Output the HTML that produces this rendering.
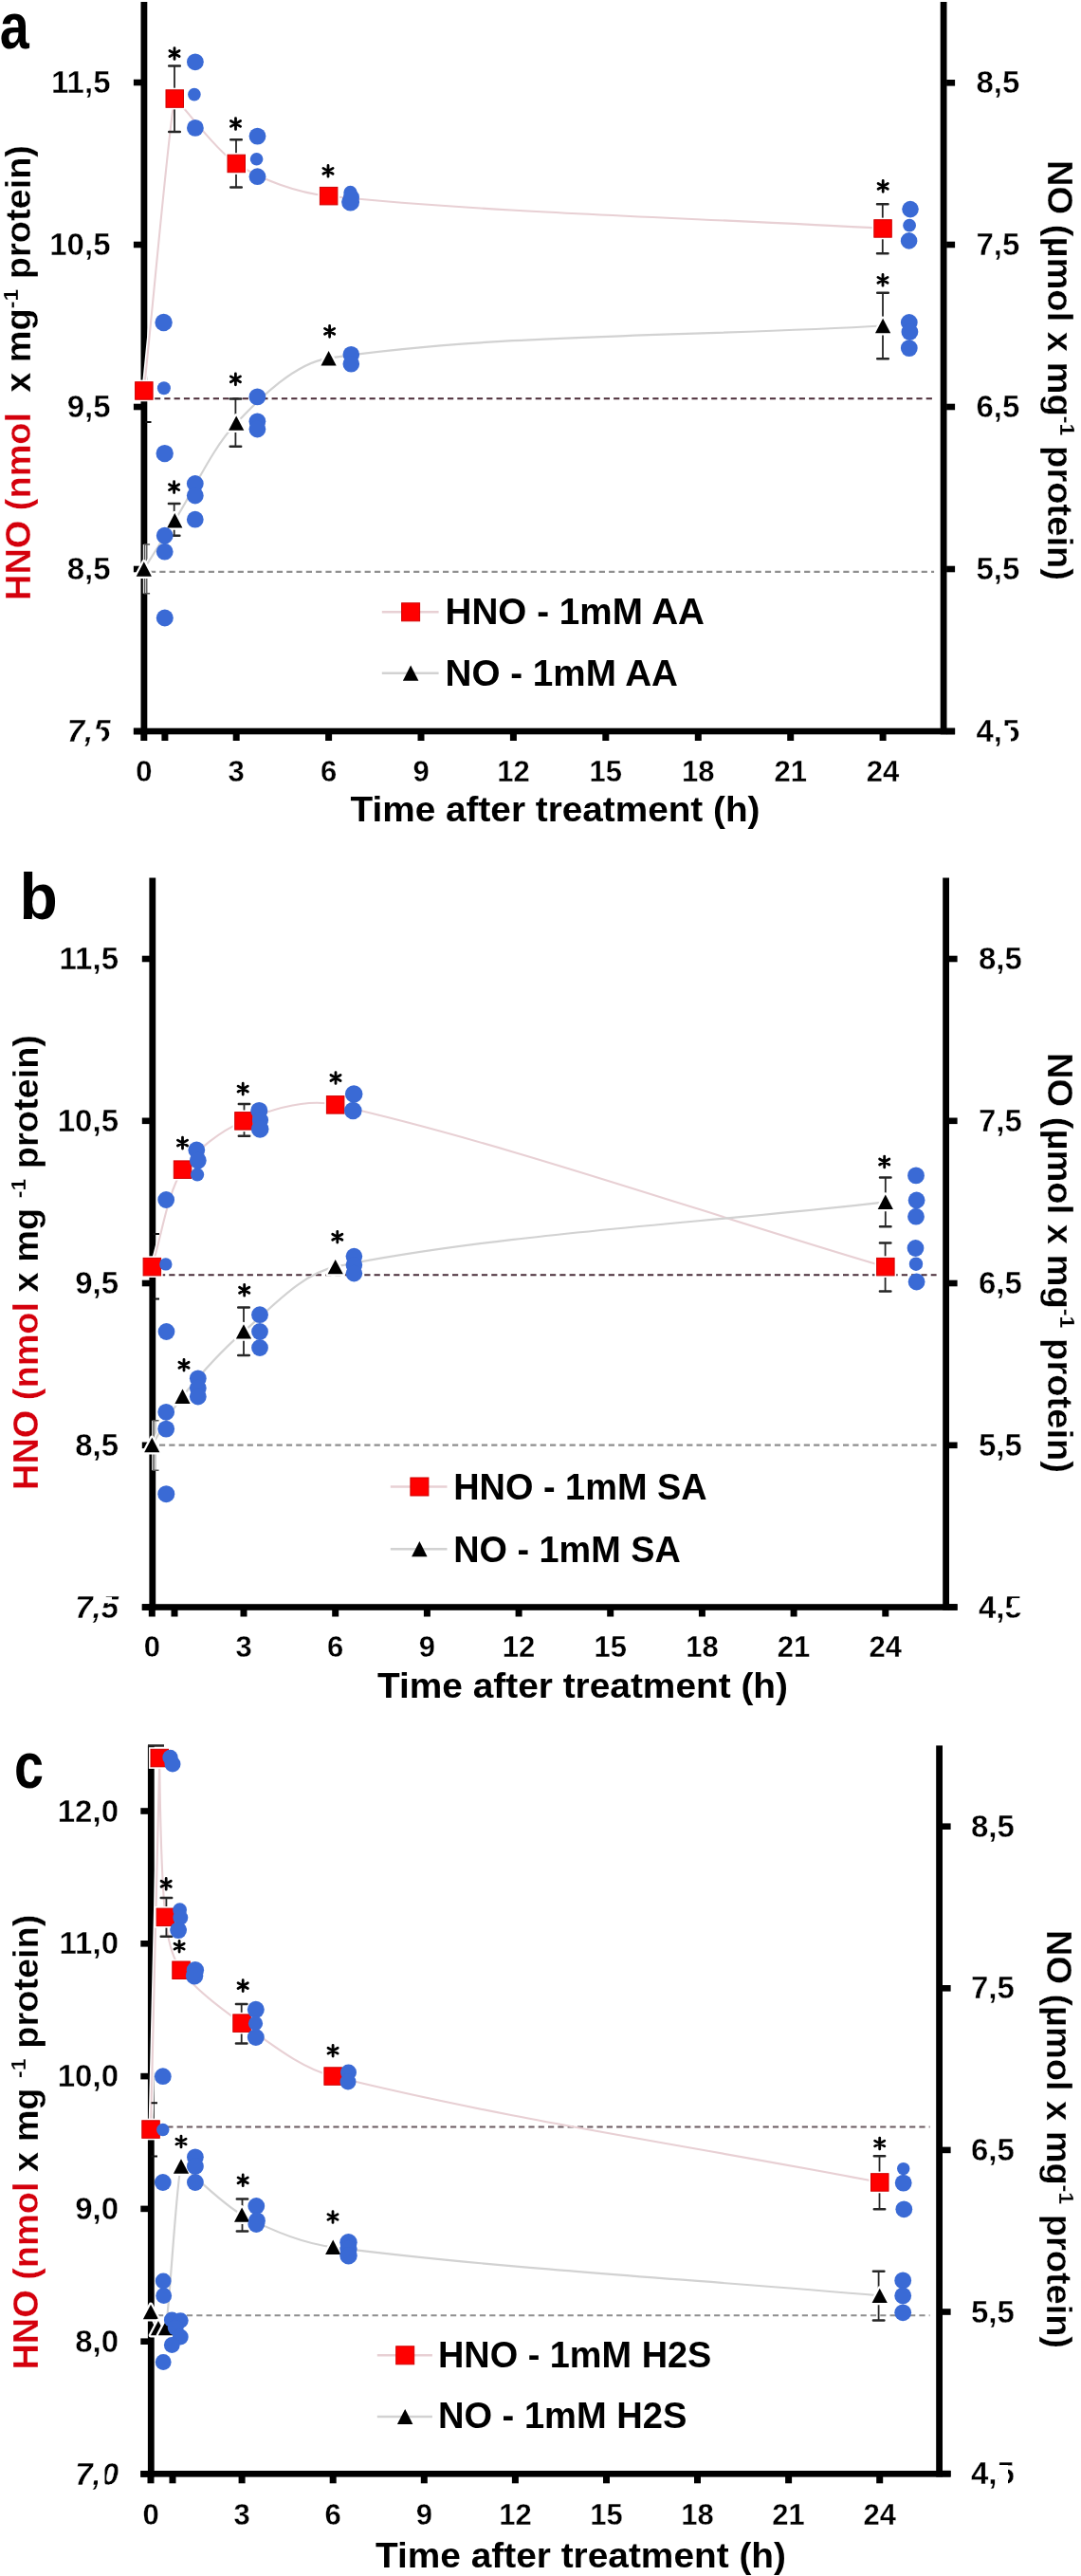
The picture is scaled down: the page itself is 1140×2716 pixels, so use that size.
<!DOCTYPE html><html><head><meta charset="utf-8"><style>html,body{margin:0;padding:0;background:#fff;}svg{display:block;will-change:transform;}</style></head><body>
<svg width="1140" height="2716" viewBox="0 0 1140 2716" font-family='"Liberation Sans", sans-serif' font-weight="bold">
<rect width="1140" height="2716" fill="#fff"/>
<rect x="148.5" y="2.0" width="6.8" height="772.3" fill="#000"/>
<rect x="991.7" y="2.0" width="6.8" height="772.3" fill="#000"/>
<rect x="140.9" y="767.7" width="866.2" height="6.6" fill="#000"/>
<rect x="140.9" y="83.7" width="9" height="6.6" fill="#000"/>
<rect x="140.9" y="254.7" width="9" height="6.6" fill="#000"/>
<rect x="140.9" y="425.7" width="9" height="6.6" fill="#000"/>
<rect x="140.9" y="596.7" width="9" height="6.6" fill="#000"/>
<rect x="140.9" y="767.7" width="9" height="6.6" fill="#000"/>
<rect x="998.1" y="84.0" width="9" height="6.6" fill="#000"/>
<rect x="998.1" y="254.7" width="9" height="6.6" fill="#000"/>
<rect x="998.1" y="425.7" width="9" height="6.6" fill="#000"/>
<rect x="998.1" y="596.7" width="9" height="6.6" fill="#000"/>
<rect x="998.1" y="767.7" width="9" height="6.6" fill="#000"/>
<rect x="148.3" y="773.0" width="7" height="8" fill="#000"/>
<rect x="170.4" y="773.0" width="7" height="8" fill="#000"/>
<rect x="245.7" y="773.0" width="7" height="8" fill="#000"/>
<rect x="343.1" y="773.0" width="7" height="8" fill="#000"/>
<rect x="440.5" y="773.0" width="7" height="8" fill="#000"/>
<rect x="537.9" y="773.0" width="7" height="8" fill="#000"/>
<rect x="635.3" y="773.0" width="7" height="8" fill="#000"/>
<rect x="732.8" y="773.0" width="7" height="8" fill="#000"/>
<rect x="830.2" y="773.0" width="7" height="8" fill="#000"/>
<rect x="927.6" y="773.0" width="7" height="8" fill="#000"/>
<path d="M151.8 411.9 C162.6 309.3 179.9 114.8 184.3 104.1 C185.6 100.8 224.8 157.1 249.2 172.5 C275.9 189.4 313.2 203.3 346.6 206.7 C536.1 225.7 736.3 229.5 931.1 240.9" stroke="#fff" stroke-width="5" fill="none"/>
<path d="M151.8 600.0 C162.6 582.9 173.4 565.8 184.3 548.7 C205.9 514.5 222.9 473.8 249.2 446.1 C275.0 419.0 311.1 383.0 346.6 377.7 C521.4 351.4 736.3 354.9 931.1 343.5" stroke="#fff" stroke-width="5" fill="none"/>
<path d="M163.0 420.3 H985.1" stroke="#4a2a36" stroke-width="1.9" stroke-dasharray="6.2 4.1"/>
<path d="M158.0 602.9 H985.1" stroke="#8f8f8f" stroke-width="2.1" stroke-dasharray="6.2 4.1"/>
<path d="M151.8 411.9 C162.6 309.3 179.9 114.8 184.3 104.1 C185.6 100.8 224.8 157.1 249.2 172.5 C275.9 189.4 313.2 203.3 346.6 206.7 C536.1 225.7 736.3 229.5 931.1 240.9" stroke="#e8d0d4" stroke-width="2.1" fill="none"/>
<path d="M151.8 600.0 C162.6 582.9 173.4 565.8 184.3 548.7 C205.9 514.5 222.9 473.8 249.2 446.1 C275.0 419.0 311.1 383.0 346.6 377.7 C521.4 351.4 736.3 354.9 931.1 343.5" stroke="#d2d2d2" stroke-width="2.2" fill="none"/>
<path d="M184.0 69.6 V139.0" stroke="#262626" stroke-width="1.8" fill="none"/>
<path d="M178.2 69.6 H189.8 M178.2 139.0 H189.8" stroke="#262626" stroke-width="2.5" stroke-linecap="round" fill="none"/>
<path d="M249.0 147.3 V197.6" stroke="#262626" stroke-width="1.8" fill="none"/>
<path d="M243.2 147.3 H254.8 M243.2 197.6 H254.8" stroke="#262626" stroke-width="2.5" stroke-linecap="round" fill="none"/>
<path d="M930.8 215.3 V267.2" stroke="#262626" stroke-width="1.8" fill="none"/>
<path d="M925.0 215.3 H936.5 M925.0 267.2 H936.5" stroke="#262626" stroke-width="2.5" stroke-linecap="round" fill="none"/>
<path d="M183.7 531.1 V564.7" stroke="#262626" stroke-width="1.8" fill="none"/>
<path d="M177.9 531.1 H189.4 M177.9 564.7 H189.4" stroke="#262626" stroke-width="2.5" stroke-linecap="round" fill="none"/>
<path d="M248.4 420.6 V470.7" stroke="#262626" stroke-width="1.8" fill="none"/>
<path d="M242.7 420.6 H254.2 M242.7 470.7 H254.2" stroke="#262626" stroke-width="2.5" stroke-linecap="round" fill="none"/>
<path d="M931.0 308.8 V378.2" stroke="#262626" stroke-width="1.8" fill="none"/>
<path d="M925.2 308.8 H936.8 M925.2 378.2 H936.8" stroke="#262626" stroke-width="2.5" stroke-linecap="round" fill="none"/>
<path d="M152.6 574.0 V625.8" stroke="#fff" stroke-width="3.6"/>
<path d="M152.6 574.0 V625.8 M151.6 625.8 H158.1 M151.6 574.0 H158.1" stroke="#555" stroke-width="1.5" fill="none"/>
<path d="M153.0 445.0 H159.5" stroke="#111" stroke-width="2" fill="none"/>
<rect x="140.5" y="400.6" width="22.7" height="22.7" fill="#fff"/>
<rect x="142.6" y="402.7" width="18.5" height="18.5" fill="#ff0000" stroke="#d00000" stroke-width="1"/>
<rect x="172.9" y="92.7" width="22.7" height="22.7" fill="#fff"/>
<rect x="175.0" y="94.8" width="18.5" height="18.5" fill="#ff0000" stroke="#d00000" stroke-width="1"/>
<rect x="237.9" y="161.2" width="22.7" height="22.7" fill="#fff"/>
<rect x="240.0" y="163.2" width="18.5" height="18.5" fill="#ff0000" stroke="#d00000" stroke-width="1"/>
<rect x="335.3" y="195.3" width="22.7" height="22.7" fill="#fff"/>
<rect x="337.4" y="197.4" width="18.5" height="18.5" fill="#ff0000" stroke="#d00000" stroke-width="1"/>
<rect x="919.7" y="229.6" width="22.7" height="22.7" fill="#fff"/>
<rect x="921.8" y="231.7" width="18.5" height="18.5" fill="#ff0000" stroke="#d00000" stroke-width="1"/>
<polygon points="151.8,592.3 159.9,607.7 143.7,607.7" fill="#fff" stroke="#fff" stroke-width="4.5" stroke-linejoin="round"/>
<polygon points="151.8,592.3 159.9,607.7 143.7,607.7" fill="#000"/>
<polygon points="184.3,541.0 192.4,556.4 176.2,556.4" fill="#fff" stroke="#fff" stroke-width="4.5" stroke-linejoin="round"/>
<polygon points="184.3,541.0 192.4,556.4 176.2,556.4" fill="#000"/>
<polygon points="249.2,438.4 257.3,453.8 241.1,453.8" fill="#fff" stroke="#fff" stroke-width="4.5" stroke-linejoin="round"/>
<polygon points="249.2,438.4 257.3,453.8 241.1,453.8" fill="#000"/>
<polygon points="346.6,370.0 354.7,385.4 338.5,385.4" fill="#fff" stroke="#fff" stroke-width="4.5" stroke-linejoin="round"/>
<polygon points="346.6,370.0 354.7,385.4 338.5,385.4" fill="#000"/>
<polygon points="931.1,335.8 939.2,351.2 923.0,351.2" fill="#fff" stroke="#fff" stroke-width="4.5" stroke-linejoin="round"/>
<polygon points="931.1,335.8 939.2,351.2 923.0,351.2" fill="#000"/>
<circle cx="205.9" cy="65.3" r="8.9" fill="#3a6ad5"/>
<circle cx="204.9" cy="99.6" r="6.8" fill="#3a6ad5"/>
<circle cx="205.9" cy="134.9" r="8.9" fill="#3a6ad5"/>
<circle cx="271.5" cy="143.6" r="8.9" fill="#3a6ad5"/>
<circle cx="270.6" cy="167.7" r="6.8" fill="#3a6ad5"/>
<circle cx="271.5" cy="186.2" r="8.9" fill="#3a6ad5"/>
<circle cx="369.5" cy="203.0" r="7.2" fill="#3a6ad5"/>
<circle cx="369.6" cy="213.0" r="9.5" fill="#3a6ad5"/>
<circle cx="370.5" cy="208.0" r="8.5" fill="#3a6ad5"/>
<circle cx="960.0" cy="220.6" r="8.8" fill="#3a6ad5"/>
<circle cx="959.1" cy="237.7" r="6.9" fill="#3a6ad5"/>
<circle cx="958.6" cy="253.9" r="8.8" fill="#3a6ad5"/>
<circle cx="172.6" cy="340.0" r="9.2" fill="#3a6ad5"/>
<circle cx="172.9" cy="409.2" r="7.0" fill="#3a6ad5"/>
<circle cx="173.7" cy="478.1" r="9.2" fill="#3a6ad5"/>
<circle cx="173.7" cy="564.7" r="8.9" fill="#3a6ad5"/>
<circle cx="173.7" cy="581.7" r="8.9" fill="#3a6ad5"/>
<circle cx="205.8" cy="510.0" r="8.9" fill="#3a6ad5"/>
<circle cx="205.8" cy="522.5" r="8.9" fill="#3a6ad5"/>
<circle cx="205.8" cy="547.7" r="8.9" fill="#3a6ad5"/>
<circle cx="271.4" cy="418.4" r="8.9" fill="#3a6ad5"/>
<circle cx="271.4" cy="444.3" r="8.9" fill="#3a6ad5"/>
<circle cx="271.4" cy="452.5" r="8.9" fill="#3a6ad5"/>
<circle cx="370.3" cy="373.7" r="8.8" fill="#3a6ad5"/>
<circle cx="370.3" cy="383.8" r="8.8" fill="#3a6ad5"/>
<circle cx="958.8" cy="340.0" r="8.9" fill="#3a6ad5"/>
<circle cx="959.4" cy="350.0" r="8.9" fill="#3a6ad5"/>
<circle cx="958.8" cy="367.1" r="8.9" fill="#3a6ad5"/>
<circle cx="173.8" cy="651.5" r="9.0" fill="#3a6ad5"/>
<path d="M184.0 50.6 L184.0 62.4 M178.9 53.5 L189.1 59.5 M189.1 53.5 L178.9 59.5 " stroke="#000" stroke-width="2.8" stroke-linecap="round"/>
<path d="M248.5 124.6 L248.5 136.4 M243.4 127.5 L253.6 133.4 M253.6 127.5 L243.4 133.4 " stroke="#000" stroke-width="2.8" stroke-linecap="round"/>
<path d="M346.0 174.4 L346.0 186.2 M340.9 177.4 L351.1 183.2 M351.1 177.4 L340.9 183.2 " stroke="#000" stroke-width="2.8" stroke-linecap="round"/>
<path d="M931.2 190.5 L931.2 202.3 M926.1 193.5 L936.3 199.3 M936.3 193.5 L926.1 199.3 " stroke="#000" stroke-width="2.8" stroke-linecap="round"/>
<path d="M183.6 507.7 L183.6 519.5 M178.5 510.7 L188.7 516.6 M188.7 510.7 L178.5 516.6 " stroke="#000" stroke-width="2.8" stroke-linecap="round"/>
<path d="M248.4 394.0 L248.4 405.8 M243.3 396.9 L253.5 402.8 M253.5 396.9 L243.3 402.8 " stroke="#000" stroke-width="2.8" stroke-linecap="round"/>
<path d="M347.6 343.5 L347.6 355.3 M342.5 346.4 L352.7 352.3 M352.7 346.4 L342.5 352.3 " stroke="#000" stroke-width="2.8" stroke-linecap="round"/>
<path d="M931.0 289.4 L931.0 301.2 M925.9 292.4 L936.1 298.2 M936.1 292.4 L925.9 298.2 " stroke="#000" stroke-width="2.8" stroke-linecap="round"/>
<text x="116.5" y="98.0" font-size="33.0" text-anchor="end" fill="#000" stroke="#fff" stroke-width="0.4">11,5</text>
<text x="116.5" y="269.0" font-size="33.0" text-anchor="end" fill="#000" stroke="#fff" stroke-width="0.4">10,5</text>
<text x="116.5" y="440.0" font-size="33.0" text-anchor="end" fill="#000" stroke="#fff" stroke-width="0.4">9,5</text>
<text x="116.5" y="611.0" font-size="33.0" text-anchor="end" fill="#000" stroke="#fff" stroke-width="0.4">8,5</text>
<text x="116.5" y="782.0" font-size="33.0" text-anchor="end" fill="#000" font-style="italic" stroke="#fff" stroke-width="0.4">7,5</text>
<text x="1029.5" y="98.3" font-size="33.0" text-anchor="start" fill="#000" stroke="#fff" stroke-width="0.4">8,5</text>
<text x="1029.5" y="269.0" font-size="33.0" text-anchor="start" fill="#000" stroke="#fff" stroke-width="0.4">7,5</text>
<text x="1029.5" y="440.0" font-size="33.0" text-anchor="start" fill="#000" stroke="#fff" stroke-width="0.4">6,5</text>
<text x="1029.5" y="611.0" font-size="33.0" text-anchor="start" fill="#000" stroke="#fff" stroke-width="0.4">5,5</text>
<text x="1029.5" y="782.0" font-size="33.0" text-anchor="start" fill="#000" stroke="#fff" stroke-width="0.4">4,5</text>
<rect x="98.0" y="768.5" width="9.5" height="16.0" fill="#fff"/>
<rect x="1057.5" y="765.0" width="8.5" height="19.0" fill="#fff"/>
<text x="151.8" y="824.2" font-size="31.0" text-anchor="middle" fill="#000" stroke="#fff" stroke-width="0.3">0</text>
<text x="249.2" y="824.2" font-size="31.0" text-anchor="middle" fill="#000" stroke="#fff" stroke-width="0.3">3</text>
<text x="346.6" y="824.2" font-size="31.0" text-anchor="middle" fill="#000" stroke="#fff" stroke-width="0.3">6</text>
<text x="444.0" y="824.2" font-size="31.0" text-anchor="middle" fill="#000" stroke="#fff" stroke-width="0.3">9</text>
<text x="541.4" y="824.2" font-size="31.0" text-anchor="middle" fill="#000" stroke="#fff" stroke-width="0.3">12</text>
<text x="638.8" y="824.2" font-size="31.0" text-anchor="middle" fill="#000" stroke="#fff" stroke-width="0.3">15</text>
<text x="736.3" y="824.2" font-size="31.0" text-anchor="middle" fill="#000" stroke="#fff" stroke-width="0.3">18</text>
<text x="833.7" y="824.2" font-size="31.0" text-anchor="middle" fill="#000" stroke="#fff" stroke-width="0.3">21</text>
<text x="931.1" y="824.2" font-size="31.0" text-anchor="middle" fill="#000" stroke="#fff" stroke-width="0.3">24</text>
<text x="369.5" y="865.7" font-size="37.2" text-anchor="start" fill="#000" textLength="432.0" lengthAdjust="spacingAndGlyphs" >Time after treatment (h)</text>
<path d="M402.8 645.3 H462.6" stroke="#e8d0d4" stroke-width="2.4"/>
<rect x="423.6" y="635.8" width="19.0" height="19.0" fill="#ff0000" stroke="#d00000" stroke-width="1"/>
<path d="M402.8 709.7 H462.6" stroke="#d2d2d2" stroke-width="2.4"/>
<polygon points="433.1,701.6 441.4,717.8 424.9,717.8" fill="#000"/>
<text x="469.5" y="658.0" font-size="38.5" text-anchor="start" fill="#000" textLength="273.5" lengthAdjust="spacingAndGlyphs" >HNO - 1mM AA</text>
<text x="469.5" y="723.0" font-size="38.5" text-anchor="start" fill="#000" textLength="245.5" lengthAdjust="spacingAndGlyphs" >NO - 1mM AA</text>
<text transform="translate(32.2 633.0) rotate(-90)" font-size="36" textLength="480.0" lengthAdjust="spacingAndGlyphs" stroke="#fff" stroke-width="0.25"><tspan fill="#d4000c">HNO (nmol</tspan>&#160; x mg<tspan font-size="22" dy="-13">-1</tspan><tspan dy="13"> protein)</tspan></text>
<text transform="translate(1105.3 169.0) rotate(90)" font-size="36" textLength="443.0" lengthAdjust="spacingAndGlyphs" stroke="#fff" stroke-width="0.25">NO (&#181;mol x mg<tspan font-size="22" dy="-13">-1</tspan><tspan dy="13"> protein)</tspan></text>
<text transform="translate(-0.2 51.0) scale(0.820 1)" font-size="68">a</text>
<rect x="157.4" y="925.5" width="6.8" height="772.3" fill="#000"/>
<rect x="994.2" y="925.5" width="6.8" height="772.3" fill="#000"/>
<rect x="149.8" y="1691.2" width="859.8" height="6.6" fill="#000"/>
<rect x="149.8" y="1007.7" width="9" height="6.6" fill="#000"/>
<rect x="149.8" y="1178.5" width="9" height="6.6" fill="#000"/>
<rect x="149.8" y="1349.7" width="9" height="6.6" fill="#000"/>
<rect x="149.8" y="1520.5" width="9" height="6.6" fill="#000"/>
<rect x="149.8" y="1691.2" width="9" height="6.6" fill="#000"/>
<rect x="1000.6" y="1007.7" width="9" height="6.6" fill="#000"/>
<rect x="1000.6" y="1178.5" width="9" height="6.6" fill="#000"/>
<rect x="1000.6" y="1349.7" width="9" height="6.6" fill="#000"/>
<rect x="1000.6" y="1520.5" width="9" height="6.6" fill="#000"/>
<rect x="1000.6" y="1691.2" width="9" height="6.6" fill="#000"/>
<rect x="156.8" y="1696.5" width="7" height="8" fill="#000"/>
<rect x="180.5" y="1696.5" width="7" height="8" fill="#000"/>
<rect x="253.5" y="1696.5" width="7" height="8" fill="#000"/>
<rect x="350.2" y="1696.5" width="7" height="8" fill="#000"/>
<rect x="446.9" y="1696.5" width="7" height="8" fill="#000"/>
<rect x="543.6" y="1696.5" width="7" height="8" fill="#000"/>
<rect x="640.2" y="1696.5" width="7" height="8" fill="#000"/>
<rect x="736.9" y="1696.5" width="7" height="8" fill="#000"/>
<rect x="833.6" y="1696.5" width="7" height="8" fill="#000"/>
<rect x="930.3" y="1696.5" width="7" height="8" fill="#000"/>
<path d="M160.3 1335.6 C171.0 1301.5 175.8 1259.7 192.5 1233.1 C205.3 1212.8 234.0 1191.7 257.0 1181.9 C284.4 1170.3 323.8 1158.0 353.7 1164.8 C537.6 1206.6 740.4 1278.7 933.8 1335.6" stroke="#fff" stroke-width="5" fill="none"/>
<path d="M160.3 1523.5 C171.0 1506.4 180.0 1487.7 192.5 1472.3 C211.9 1448.3 233.5 1423.9 257.0 1403.9 C286.6 1378.8 318.0 1342.8 353.7 1335.6 C529.9 1300.0 740.4 1290.1 933.8 1267.3" stroke="#fff" stroke-width="5" fill="none"/>
<path d="M168.0 1344.2 H987.6" stroke="#4a2e3a" stroke-width="1.9" stroke-dasharray="6.2 4.1"/>
<path d="M168.0 1523.6 H987.6" stroke="#8f8f8f" stroke-width="2.1" stroke-dasharray="6.2 4.1"/>
<path d="M160.3 1335.6 C171.0 1301.5 175.8 1259.7 192.5 1233.1 C205.3 1212.8 234.0 1191.7 257.0 1181.9 C284.4 1170.3 323.8 1158.0 353.7 1164.8 C537.6 1206.6 740.4 1278.7 933.8 1335.6" stroke="#e8d0d4" stroke-width="2.1" fill="none"/>
<path d="M160.3 1523.5 C171.0 1506.4 180.0 1487.7 192.5 1472.3 C211.9 1448.3 233.5 1423.9 257.0 1403.9 C286.6 1378.8 318.0 1342.8 353.7 1335.6 C529.9 1300.0 740.4 1290.1 933.8 1267.3" stroke="#d2d2d2" stroke-width="2.2" fill="none"/>
<path d="M257.5 1164.0 V1197.7" stroke="#262626" stroke-width="1.8" fill="none"/>
<path d="M251.8 1164.0 H263.2 M251.8 1197.7 H263.2" stroke="#262626" stroke-width="2.5" stroke-linecap="round" fill="none"/>
<path d="M933.6 1310.5 V1361.5" stroke="#262626" stroke-width="1.8" fill="none"/>
<path d="M927.9 1310.5 H939.4 M927.9 1361.5 H939.4" stroke="#262626" stroke-width="2.5" stroke-linecap="round" fill="none"/>
<path d="M257.0 1378.5 V1429.0" stroke="#262626" stroke-width="1.8" fill="none"/>
<path d="M251.2 1378.5 H262.8 M251.2 1429.0 H262.8" stroke="#262626" stroke-width="2.5" stroke-linecap="round" fill="none"/>
<path d="M933.8 1241.6 V1293.3" stroke="#262626" stroke-width="1.8" fill="none"/>
<path d="M928.0 1241.6 H939.5 M928.0 1293.3 H939.5" stroke="#262626" stroke-width="2.5" stroke-linecap="round" fill="none"/>
<path d="M161.5 1369.5 H168.0 M161.5 1301.0 H168.0" stroke="#111" stroke-width="2" fill="none"/>
<path d="M162.0 1497.7 V1550.2" stroke="#fff" stroke-width="3.6"/>
<path d="M162.0 1497.7 V1550.2 M161.0 1550.2 H167.5 M161.0 1497.7 H167.5" stroke="#555" stroke-width="1.5" fill="none"/>
<rect x="149.0" y="1324.3" width="22.7" height="22.7" fill="#fff"/>
<rect x="151.1" y="1326.4" width="18.5" height="18.5" fill="#ff0000" stroke="#d00000" stroke-width="1"/>
<rect x="181.2" y="1221.8" width="22.7" height="22.7" fill="#fff"/>
<rect x="183.3" y="1223.9" width="18.5" height="18.5" fill="#ff0000" stroke="#d00000" stroke-width="1"/>
<rect x="245.6" y="1170.5" width="22.7" height="22.7" fill="#fff"/>
<rect x="247.7" y="1172.6" width="18.5" height="18.5" fill="#ff0000" stroke="#d00000" stroke-width="1"/>
<rect x="342.3" y="1153.5" width="22.7" height="22.7" fill="#fff"/>
<rect x="344.4" y="1155.6" width="18.5" height="18.5" fill="#ff0000" stroke="#d00000" stroke-width="1"/>
<rect x="922.5" y="1324.3" width="22.7" height="22.7" fill="#fff"/>
<rect x="924.6" y="1326.4" width="18.5" height="18.5" fill="#ff0000" stroke="#d00000" stroke-width="1"/>
<polygon points="160.3,1515.8 168.4,1531.2 152.2,1531.2" fill="#fff" stroke="#fff" stroke-width="4.5" stroke-linejoin="round"/>
<polygon points="160.3,1515.8 168.4,1531.2 152.2,1531.2" fill="#000"/>
<polygon points="192.5,1464.6 200.6,1480.0 184.4,1480.0" fill="#fff" stroke="#fff" stroke-width="4.5" stroke-linejoin="round"/>
<polygon points="192.5,1464.6 200.6,1480.0 184.4,1480.0" fill="#000"/>
<polygon points="257.0,1396.2 265.1,1411.6 248.9,1411.6" fill="#fff" stroke="#fff" stroke-width="4.5" stroke-linejoin="round"/>
<polygon points="257.0,1396.2 265.1,1411.6 248.9,1411.6" fill="#000"/>
<polygon points="353.7,1327.9 361.8,1343.3 345.6,1343.3" fill="#fff" stroke="#fff" stroke-width="4.5" stroke-linejoin="round"/>
<polygon points="353.7,1327.9 361.8,1343.3 345.6,1343.3" fill="#000"/>
<polygon points="933.8,1259.6 941.9,1275.0 925.7,1275.0" fill="#fff" stroke="#fff" stroke-width="4.5" stroke-linejoin="round"/>
<polygon points="933.8,1259.6 941.9,1275.0 925.7,1275.0" fill="#000"/>
<circle cx="175.2" cy="1265.0" r="8.9" fill="#3a6ad5"/>
<circle cx="174.8" cy="1332.9" r="6.7" fill="#3a6ad5"/>
<circle cx="175.5" cy="1404.0" r="8.9" fill="#3a6ad5"/>
<circle cx="207.3" cy="1212.5" r="8.9" fill="#3a6ad5"/>
<circle cx="208.8" cy="1223.6" r="8.9" fill="#3a6ad5"/>
<circle cx="208.1" cy="1238.4" r="7.1" fill="#3a6ad5"/>
<circle cx="273.3" cy="1171.0" r="9.1" fill="#3a6ad5"/>
<circle cx="274.5" cy="1181.0" r="8.6" fill="#3a6ad5"/>
<circle cx="274.2" cy="1190.5" r="9.3" fill="#3a6ad5"/>
<circle cx="373.2" cy="1153.5" r="9.3" fill="#3a6ad5"/>
<circle cx="372.3" cy="1171.0" r="9.3" fill="#3a6ad5"/>
<circle cx="966.0" cy="1239.4" r="8.9" fill="#3a6ad5"/>
<circle cx="966.6" cy="1265.5" r="8.9" fill="#3a6ad5"/>
<circle cx="966.0" cy="1282.7" r="8.9" fill="#3a6ad5"/>
<circle cx="965.5" cy="1316.0" r="8.9" fill="#3a6ad5"/>
<circle cx="966.0" cy="1332.7" r="7.2" fill="#3a6ad5"/>
<circle cx="966.6" cy="1351.5" r="8.9" fill="#3a6ad5"/>
<circle cx="274.0" cy="1386.2" r="8.9" fill="#3a6ad5"/>
<circle cx="274.0" cy="1404.0" r="8.9" fill="#3a6ad5"/>
<circle cx="274.0" cy="1421.0" r="8.9" fill="#3a6ad5"/>
<circle cx="208.8" cy="1453.3" r="8.9" fill="#3a6ad5"/>
<circle cx="208.8" cy="1463.6" r="8.9" fill="#3a6ad5"/>
<circle cx="208.8" cy="1472.5" r="8.9" fill="#3a6ad5"/>
<circle cx="175.2" cy="1488.8" r="8.9" fill="#3a6ad5"/>
<circle cx="175.2" cy="1506.6" r="8.9" fill="#3a6ad5"/>
<circle cx="373.4" cy="1324.6" r="8.8" fill="#3a6ad5"/>
<circle cx="373.4" cy="1333.8" r="8.8" fill="#3a6ad5"/>
<circle cx="373.4" cy="1342.6" r="8.8" fill="#3a6ad5"/>
<circle cx="175.3" cy="1575.2" r="9.0" fill="#3a6ad5"/>
<path d="M192.5 1199.2 L192.5 1211.0 M187.4 1202.1 L197.6 1208.0 M197.6 1202.1 L187.4 1208.0 " stroke="#000" stroke-width="2.8" stroke-linecap="round"/>
<path d="M256.2 1142.2 L256.2 1154.0 M251.1 1145.1 L261.3 1151.0 M261.3 1145.1 L251.1 1151.0 " stroke="#000" stroke-width="2.8" stroke-linecap="round"/>
<path d="M354.0 1130.6 L354.0 1142.4 M348.9 1133.5 L359.1 1139.5 M359.1 1133.5 L348.9 1139.5 " stroke="#000" stroke-width="2.8" stroke-linecap="round"/>
<path d="M932.7 1219.1 L932.7 1230.9 M927.6 1222.0 L937.8 1228.0 M937.8 1222.0 L927.6 1228.0 " stroke="#000" stroke-width="2.8" stroke-linecap="round"/>
<path d="M194.0 1433.3 L194.0 1445.1 M188.9 1436.2 L199.1 1442.2 M199.1 1436.2 L188.9 1442.2 " stroke="#000" stroke-width="2.8" stroke-linecap="round"/>
<path d="M257.7 1354.4 L257.7 1366.2 M252.6 1357.3 L262.8 1363.2 M262.8 1357.3 L252.6 1363.2 " stroke="#000" stroke-width="2.8" stroke-linecap="round"/>
<path d="M355.8 1298.3 L355.8 1310.1 M350.7 1301.2 L360.9 1307.2 M360.9 1301.2 L350.7 1307.2 " stroke="#000" stroke-width="2.8" stroke-linecap="round"/>
<text x="125.0" y="1022.0" font-size="33.0" text-anchor="end" fill="#000" stroke="#fff" stroke-width="0.4">11,5</text>
<text x="125.0" y="1192.8" font-size="33.0" text-anchor="end" fill="#000" stroke="#fff" stroke-width="0.4">10,5</text>
<text x="125.0" y="1364.0" font-size="33.0" text-anchor="end" fill="#000" stroke="#fff" stroke-width="0.4">9,5</text>
<text x="125.0" y="1534.8" font-size="33.0" text-anchor="end" fill="#000" stroke="#fff" stroke-width="0.4">8,5</text>
<text x="125.0" y="1705.5" font-size="33.0" text-anchor="end" fill="#000" font-style="italic" stroke="#fff" stroke-width="0.4">7,5</text>
<text x="1032.0" y="1022.0" font-size="33.0" text-anchor="start" fill="#000" stroke="#fff" stroke-width="0.4">8,5</text>
<text x="1032.0" y="1192.8" font-size="33.0" text-anchor="start" fill="#000" stroke="#fff" stroke-width="0.4">7,5</text>
<text x="1032.0" y="1364.0" font-size="33.0" text-anchor="start" fill="#000" stroke="#fff" stroke-width="0.4">6,5</text>
<text x="1032.0" y="1534.8" font-size="33.0" text-anchor="start" fill="#000" stroke="#fff" stroke-width="0.4">5,5</text>
<text x="1032.0" y="1705.5" font-size="33.0" text-anchor="start" fill="#000" stroke="#fff" stroke-width="0.4">4,5</text>
<rect x="109.5" y="1683.8" width="8.5" height="6.5" fill="#fff"/>
<rect x="1067.0" y="1685.0" width="11.0" height="15.5" fill="#fff"/>
<text x="160.3" y="1747.0" font-size="31.0" text-anchor="middle" fill="#000" stroke="#fff" stroke-width="0.3">0</text>
<text x="257.0" y="1747.0" font-size="31.0" text-anchor="middle" fill="#000" stroke="#fff" stroke-width="0.3">3</text>
<text x="353.7" y="1747.0" font-size="31.0" text-anchor="middle" fill="#000" stroke="#fff" stroke-width="0.3">6</text>
<text x="450.4" y="1747.0" font-size="31.0" text-anchor="middle" fill="#000" stroke="#fff" stroke-width="0.3">9</text>
<text x="547.1" y="1747.0" font-size="31.0" text-anchor="middle" fill="#000" stroke="#fff" stroke-width="0.3">12</text>
<text x="643.8" y="1747.0" font-size="31.0" text-anchor="middle" fill="#000" stroke="#fff" stroke-width="0.3">15</text>
<text x="740.4" y="1747.0" font-size="31.0" text-anchor="middle" fill="#000" stroke="#fff" stroke-width="0.3">18</text>
<text x="837.1" y="1747.0" font-size="31.0" text-anchor="middle" fill="#000" stroke="#fff" stroke-width="0.3">21</text>
<text x="933.8" y="1747.0" font-size="31.0" text-anchor="middle" fill="#000" stroke="#fff" stroke-width="0.3">24</text>
<text x="398.0" y="1790.2" font-size="37.2" text-anchor="start" fill="#000" textLength="433.0" lengthAdjust="spacingAndGlyphs" >Time after treatment (h)</text>
<path d="M411.8 1567.5 H471.5" stroke="#e8d0d4" stroke-width="2.4"/>
<rect x="432.9" y="1558.0" width="19.0" height="19.0" fill="#ff0000" stroke="#d00000" stroke-width="1"/>
<path d="M411.8 1633.2 H471.5" stroke="#d2d2d2" stroke-width="2.4"/>
<polygon points="442.4,1625.1 450.6,1641.3 434.1,1641.3" fill="#000"/>
<text x="478.2" y="1580.5" font-size="38.5" text-anchor="start" fill="#000" textLength="267.5" lengthAdjust="spacingAndGlyphs" >HNO - 1mM SA</text>
<text x="478.2" y="1646.5" font-size="38.5" text-anchor="start" fill="#000" textLength="239.5" lengthAdjust="spacingAndGlyphs" >NO - 1mM SA</text>
<text transform="translate(40.3 1571.0) rotate(-90)" font-size="36" textLength="480.0" lengthAdjust="spacingAndGlyphs" stroke="#fff" stroke-width="0.25"><tspan fill="#d4000c">HNO (nmol</tspan> x mg&#160;<tspan font-size="22" dy="-13">-1</tspan><tspan dy="13"> protein)</tspan></text>
<text transform="translate(1105.3 1110.0) rotate(90)" font-size="36" textLength="443.0" lengthAdjust="spacingAndGlyphs" stroke="#fff" stroke-width="0.25">NO (&#181;mol x mg<tspan font-size="22" dy="-13">-1</tspan><tspan dy="13"> protein)</tspan></text>
<text transform="translate(20.5 969.0) scale(0.970 1)" font-size="68">b</text>
<rect x="155.9" y="1840.2" width="6.8" height="771.4" fill="#000"/>
<rect x="987.2" y="1840.4" width="6.8" height="771.2" fill="#000"/>
<rect x="148.3" y="2605.0" width="854.3" height="6.6" fill="#000"/>
<rect x="148.3" y="1906.2" width="9" height="6.6" fill="#000"/>
<rect x="148.3" y="2046.0" width="9" height="6.6" fill="#000"/>
<rect x="148.3" y="2185.8" width="9" height="6.6" fill="#000"/>
<rect x="148.3" y="2325.6" width="9" height="6.6" fill="#000"/>
<rect x="148.3" y="2465.4" width="9" height="6.6" fill="#000"/>
<rect x="148.3" y="2605.2" width="9" height="6.6" fill="#000"/>
<rect x="993.6" y="1922.4" width="9" height="6.6" fill="#000"/>
<rect x="993.6" y="2093.0" width="9" height="6.6" fill="#000"/>
<rect x="993.6" y="2263.6" width="9" height="6.6" fill="#000"/>
<rect x="993.6" y="2434.2" width="9" height="6.6" fill="#000"/>
<rect x="993.6" y="2604.8" width="9" height="6.6" fill="#000"/>
<rect x="155.5" y="2610.3" width="7" height="8" fill="#000"/>
<rect x="178.5" y="2610.3" width="7" height="8" fill="#000"/>
<rect x="251.6" y="2610.3" width="7" height="8" fill="#000"/>
<rect x="347.7" y="2610.3" width="7" height="8" fill="#000"/>
<rect x="443.8" y="2610.3" width="7" height="8" fill="#000"/>
<rect x="539.9" y="2610.3" width="7" height="8" fill="#000"/>
<rect x="636.0" y="2610.3" width="7" height="8" fill="#000"/>
<rect x="732.0" y="2610.3" width="7" height="8" fill="#000"/>
<rect x="828.1" y="2610.3" width="7" height="8" fill="#000"/>
<rect x="924.2" y="2610.3" width="7" height="8" fill="#000"/>
<path d="M159.0 2245.0 C162.1 2114.5 168.3 1853.6 168.3 1853.6 C168.3 1853.6 168.8 1966.9 174.4 2021.3 C176.3 2040.3 180.9 2063.3 191.0 2077.3 C205.8 2097.7 232.2 2117.2 255.1 2133.2 C285.1 2154.1 316.5 2180.4 351.2 2189.1 C534.4 2234.8 735.5 2263.7 927.7 2300.9" stroke="#fff" stroke-width="5" fill="none"/>
<path d="M159.0 2437.5 C161.7 2443.2 164.3 2451.7 167.0 2454.6 C168.1 2455.8 174.8 2455.9 175.0 2454.6 C179.2 2424.9 187.0 2290.0 191.0 2284.0 C193.0 2281.1 231.9 2322.8 255.1 2335.1 C283.9 2350.5 318.1 2365.1 351.2 2369.3 C538.8 2393.1 735.5 2403.4 927.7 2420.4" stroke="#fff" stroke-width="5" fill="none"/>
<path d="M166.0 2242.5 H980.6" stroke="#6a5a60" stroke-width="2.0" stroke-dasharray="6.2 4.1"/>
<path d="M166.0 2441.3 H980.6" stroke="#8f8f8f" stroke-width="2.1" stroke-dasharray="6.2 4.1"/>
<path d="M159.0 2245.0 C162.1 2114.5 168.3 1853.6 168.3 1853.6 C168.3 1853.6 168.8 1966.9 174.4 2021.3 C176.3 2040.3 180.9 2063.3 191.0 2077.3 C205.8 2097.7 232.2 2117.2 255.1 2133.2 C285.1 2154.1 316.5 2180.4 351.2 2189.1 C534.4 2234.8 735.5 2263.7 927.7 2300.9" stroke="#e8d0d4" stroke-width="2.1" fill="none"/>
<path d="M159.0 2437.5 C161.7 2443.2 164.3 2451.7 167.0 2454.6 C168.1 2455.8 174.8 2455.9 175.0 2454.6 C179.2 2424.9 187.0 2290.0 191.0 2284.0 C193.0 2281.1 231.9 2322.8 255.1 2335.1 C283.9 2350.5 318.1 2365.1 351.2 2369.3 C538.8 2393.1 735.5 2403.4 927.7 2420.4" stroke="#d2d2d2" stroke-width="2.2" fill="none"/>
<path d="M175.4 2001.0 V2041.8" stroke="#262626" stroke-width="1.8" fill="none"/>
<path d="M169.7 2001.0 H181.2 M169.7 2041.8 H181.2" stroke="#262626" stroke-width="2.5" stroke-linecap="round" fill="none"/>
<path d="M254.7 2113.0 V2154.4" stroke="#262626" stroke-width="1.8" fill="none"/>
<path d="M248.9 2113.0 H260.4 M248.9 2154.4 H260.4" stroke="#262626" stroke-width="2.5" stroke-linecap="round" fill="none"/>
<path d="M927.5 2273.3 V2329.3" stroke="#262626" stroke-width="1.8" fill="none"/>
<path d="M921.8 2273.3 H933.2 M921.8 2329.3 H933.2" stroke="#262626" stroke-width="2.5" stroke-linecap="round" fill="none"/>
<path d="M255.5 2318.5 V2352.5" stroke="#262626" stroke-width="1.8" fill="none"/>
<path d="M249.8 2318.5 H261.2 M249.8 2352.5 H261.2" stroke="#262626" stroke-width="2.5" stroke-linecap="round" fill="none"/>
<path d="M926.6 2394.8 V2446.5" stroke="#262626" stroke-width="1.8" fill="none"/>
<path d="M920.9 2394.8 H932.4 M920.9 2446.5 H932.4" stroke="#262626" stroke-width="2.5" stroke-linecap="round" fill="none"/>
<path d="M156.0 1840.5 H173.0" stroke="#262626" stroke-width="2.5"/>
<path d="M159.5 2273.6 H166.0 M159.5 2217.3 H166.0" stroke="#111" stroke-width="2" fill="none"/>
<rect x="147.7" y="2233.7" width="22.7" height="22.7" fill="#fff"/>
<rect x="149.8" y="2235.8" width="18.5" height="18.5" fill="#ff0000" stroke="#d00000" stroke-width="1"/>
<rect x="156.9" y="1842.2" width="22.7" height="22.7" fill="#fff"/>
<rect x="159.0" y="1844.3" width="18.5" height="18.5" fill="#ff0000" stroke="#d00000" stroke-width="1"/>
<rect x="163.0" y="2010.0" width="22.7" height="22.7" fill="#fff"/>
<rect x="165.1" y="2012.1" width="18.5" height="18.5" fill="#ff0000" stroke="#d00000" stroke-width="1"/>
<rect x="179.7" y="2065.9" width="22.7" height="22.7" fill="#fff"/>
<rect x="181.8" y="2068.0" width="18.5" height="18.5" fill="#ff0000" stroke="#d00000" stroke-width="1"/>
<rect x="243.7" y="2121.8" width="22.7" height="22.7" fill="#fff"/>
<rect x="245.8" y="2123.9" width="18.5" height="18.5" fill="#ff0000" stroke="#d00000" stroke-width="1"/>
<rect x="339.8" y="2177.8" width="22.7" height="22.7" fill="#fff"/>
<rect x="341.9" y="2179.8" width="18.5" height="18.5" fill="#ff0000" stroke="#d00000" stroke-width="1"/>
<rect x="916.4" y="2289.6" width="22.7" height="22.7" fill="#fff"/>
<rect x="918.5" y="2291.7" width="18.5" height="18.5" fill="#ff0000" stroke="#d00000" stroke-width="1"/>
<polygon points="159.0,2429.8 167.1,2445.2 150.9,2445.2" fill="#fff" stroke="#fff" stroke-width="4.5" stroke-linejoin="round"/>
<polygon points="159.0,2429.8 167.1,2445.2 150.9,2445.2" fill="#000"/>
<polygon points="167.0,2446.9 175.1,2462.3 158.9,2462.3" fill="#fff" stroke="#fff" stroke-width="4.5" stroke-linejoin="round"/>
<polygon points="167.0,2446.9 175.1,2462.3 158.9,2462.3" fill="#000"/>
<polygon points="175.0,2446.9 183.1,2462.3 166.9,2462.3" fill="#fff" stroke="#fff" stroke-width="4.5" stroke-linejoin="round"/>
<polygon points="175.0,2446.9 183.1,2462.3 166.9,2462.3" fill="#000"/>
<polygon points="191.0,2276.3 199.1,2291.7 182.9,2291.7" fill="#fff" stroke="#fff" stroke-width="4.5" stroke-linejoin="round"/>
<polygon points="191.0,2276.3 199.1,2291.7 182.9,2291.7" fill="#000"/>
<polygon points="255.1,2327.4 263.2,2342.8 247.0,2342.8" fill="#fff" stroke="#fff" stroke-width="4.5" stroke-linejoin="round"/>
<polygon points="255.1,2327.4 263.2,2342.8 247.0,2342.8" fill="#000"/>
<polygon points="351.2,2361.6 359.3,2377.0 343.1,2377.0" fill="#fff" stroke="#fff" stroke-width="4.5" stroke-linejoin="round"/>
<polygon points="351.2,2361.6 359.3,2377.0 343.1,2377.0" fill="#000"/>
<polygon points="927.7,2412.7 935.8,2428.1 919.6,2428.1" fill="#fff" stroke="#fff" stroke-width="4.5" stroke-linejoin="round"/>
<polygon points="927.7,2412.7 935.8,2428.1 919.6,2428.1" fill="#000"/>
<circle cx="179.5" cy="1853.0" r="8.2" fill="#3a6ad5"/>
<circle cx="182.0" cy="1860.0" r="8.5" fill="#3a6ad5"/>
<circle cx="189.6" cy="2013.7" r="7.4" fill="#3a6ad5"/>
<circle cx="190.3" cy="2021.8" r="8.0" fill="#3a6ad5"/>
<circle cx="188.1" cy="2035.1" r="8.9" fill="#3a6ad5"/>
<circle cx="205.9" cy="2077.3" r="9.2" fill="#3a6ad5"/>
<circle cx="205.1" cy="2083.2" r="9.2" fill="#3a6ad5"/>
<circle cx="269.8" cy="2118.8" r="9.0" fill="#3a6ad5"/>
<circle cx="269.5" cy="2133.4" r="7.6" fill="#3a6ad5"/>
<circle cx="269.8" cy="2148.0" r="9.0" fill="#3a6ad5"/>
<circle cx="367.5" cy="2185.0" r="8.5" fill="#3a6ad5"/>
<circle cx="367.0" cy="2195.0" r="8.5" fill="#3a6ad5"/>
<circle cx="952.7" cy="2286.6" r="6.7" fill="#3a6ad5"/>
<circle cx="952.7" cy="2301.6" r="8.9" fill="#3a6ad5"/>
<circle cx="953.3" cy="2329.3" r="8.9" fill="#3a6ad5"/>
<circle cx="171.8" cy="2189.2" r="8.9" fill="#3a6ad5"/>
<circle cx="171.8" cy="2245.5" r="6.7" fill="#3a6ad5"/>
<circle cx="171.8" cy="2301.0" r="8.9" fill="#3a6ad5"/>
<circle cx="205.9" cy="2274.3" r="8.9" fill="#3a6ad5"/>
<circle cx="205.9" cy="2284.0" r="8.9" fill="#3a6ad5"/>
<circle cx="205.9" cy="2301.0" r="8.9" fill="#3a6ad5"/>
<circle cx="270.3" cy="2326.0" r="8.9" fill="#3a6ad5"/>
<circle cx="271.0" cy="2341.4" r="8.9" fill="#3a6ad5"/>
<circle cx="270.3" cy="2345.0" r="8.9" fill="#3a6ad5"/>
<circle cx="367.5" cy="2364.2" r="9.2" fill="#3a6ad5"/>
<circle cx="367.5" cy="2371.0" r="9.2" fill="#3a6ad5"/>
<circle cx="367.5" cy="2378.2" r="9.2" fill="#3a6ad5"/>
<circle cx="952.2" cy="2404.4" r="8.9" fill="#3a6ad5"/>
<circle cx="952.2" cy="2420.5" r="8.9" fill="#3a6ad5"/>
<circle cx="952.2" cy="2438.3" r="8.9" fill="#3a6ad5"/>
<circle cx="172.2" cy="2405.0" r="8.4" fill="#3a6ad5"/>
<circle cx="172.7" cy="2420.5" r="8.4" fill="#3a6ad5"/>
<circle cx="181.3" cy="2445.9" r="8.4" fill="#3a6ad5"/>
<circle cx="190.3" cy="2446.6" r="8.4" fill="#3a6ad5"/>
<circle cx="185.2" cy="2454.3" r="8.4" fill="#3a6ad5"/>
<circle cx="190.3" cy="2464.0" r="8.4" fill="#3a6ad5"/>
<circle cx="181.3" cy="2472.5" r="8.4" fill="#3a6ad5"/>
<circle cx="172.2" cy="2490.5" r="8.4" fill="#3a6ad5"/>
<path d="M175.2 1980.4 L175.2 1992.2 M170.1 1983.3 L180.3 1989.2 M180.3 1983.3 L170.1 1989.2 " stroke="#000" stroke-width="2.8" stroke-linecap="round"/>
<path d="M189.1 2046.3 L189.1 2058.1 M184.0 2049.2 L194.2 2055.1 M194.2 2049.2 L184.0 2055.1 " stroke="#000" stroke-width="2.8" stroke-linecap="round"/>
<path d="M256.2 2087.7 L256.2 2099.5 M251.1 2090.7 L261.3 2096.5 M261.3 2090.7 L251.1 2096.5 " stroke="#000" stroke-width="2.8" stroke-linecap="round"/>
<path d="M351.1 2156.3 L351.1 2168.1 M346.0 2159.2 L356.2 2165.1 M356.2 2159.2 L346.0 2165.1 " stroke="#000" stroke-width="2.8" stroke-linecap="round"/>
<path d="M927.7 2254.1 L927.7 2265.9 M922.6 2257.1 L932.8 2262.9 M932.8 2257.1 L922.6 2262.9 " stroke="#000" stroke-width="2.8" stroke-linecap="round"/>
<path d="M191.0 2252.1 L191.0 2263.9 M185.9 2255.1 L196.1 2260.9 M196.1 2255.1 L185.9 2260.9 " stroke="#000" stroke-width="2.8" stroke-linecap="round"/>
<path d="M256.2 2292.9 L256.2 2304.7 M251.1 2295.9 L261.3 2301.8 M261.3 2295.9 L251.1 2301.8 " stroke="#000" stroke-width="2.8" stroke-linecap="round"/>
<path d="M351.0 2331.6 L351.0 2343.4 M345.9 2334.6 L356.1 2340.4 M356.1 2334.6 L345.9 2340.4 " stroke="#000" stroke-width="2.8" stroke-linecap="round"/>
<text x="125.0" y="1920.5" font-size="33.0" text-anchor="end" fill="#000" stroke="#fff" stroke-width="0.4">12,0</text>
<text x="125.0" y="2060.3" font-size="33.0" text-anchor="end" fill="#000" stroke="#fff" stroke-width="0.4">11,0</text>
<text x="125.0" y="2200.1" font-size="33.0" text-anchor="end" fill="#000" stroke="#fff" stroke-width="0.4">10,0</text>
<text x="125.0" y="2339.9" font-size="33.0" text-anchor="end" fill="#000" stroke="#fff" stroke-width="0.4">9,0</text>
<text x="125.0" y="2479.7" font-size="33.0" text-anchor="end" fill="#000" stroke="#fff" stroke-width="0.4">8,0</text>
<text x="125.0" y="2619.5" font-size="33.0" text-anchor="end" fill="#000" font-style="italic" stroke="#fff" stroke-width="0.4">7,0</text>
<text x="1024.0" y="1936.7" font-size="33.0" text-anchor="start" fill="#000" stroke="#fff" stroke-width="0.4">8,5</text>
<text x="1024.0" y="2107.3" font-size="33.0" text-anchor="start" fill="#000" stroke="#fff" stroke-width="0.4">7,5</text>
<text x="1024.0" y="2277.9" font-size="33.0" text-anchor="start" fill="#000" stroke="#fff" stroke-width="0.4">6,5</text>
<text x="1024.0" y="2448.5" font-size="33.0" text-anchor="start" fill="#000" stroke="#fff" stroke-width="0.4">5,5</text>
<text x="1024.0" y="2619.1" font-size="33.0" text-anchor="start" fill="#000" stroke="#fff" stroke-width="0.4">4,5</text>
<rect x="103.0" y="2594.0" width="7.5" height="28.0" fill="#fff"/>
<rect x="1053.0" y="2599.0" width="10.0" height="22.0" fill="#fff"/>
<text x="159.0" y="2661.7" font-size="31.0" text-anchor="middle" fill="#000" stroke="#fff" stroke-width="0.3">0</text>
<text x="255.1" y="2661.7" font-size="31.0" text-anchor="middle" fill="#000" stroke="#fff" stroke-width="0.3">3</text>
<text x="351.2" y="2661.7" font-size="31.0" text-anchor="middle" fill="#000" stroke="#fff" stroke-width="0.3">6</text>
<text x="447.3" y="2661.7" font-size="31.0" text-anchor="middle" fill="#000" stroke="#fff" stroke-width="0.3">9</text>
<text x="543.4" y="2661.7" font-size="31.0" text-anchor="middle" fill="#000" stroke="#fff" stroke-width="0.3">12</text>
<text x="639.5" y="2661.7" font-size="31.0" text-anchor="middle" fill="#000" stroke="#fff" stroke-width="0.3">15</text>
<text x="735.5" y="2661.7" font-size="31.0" text-anchor="middle" fill="#000" stroke="#fff" stroke-width="0.3">18</text>
<text x="831.6" y="2661.7" font-size="31.0" text-anchor="middle" fill="#000" stroke="#fff" stroke-width="0.3">21</text>
<text x="927.7" y="2661.7" font-size="31.0" text-anchor="middle" fill="#000" stroke="#fff" stroke-width="0.3">24</text>
<text x="396.0" y="2707.2" font-size="37.2" text-anchor="start" fill="#000" textLength="433.0" lengthAdjust="spacingAndGlyphs" >Time after treatment (h)</text>
<path d="M397.8 2483.3 H455.9" stroke="#e8d0d4" stroke-width="2.4"/>
<rect x="417.7" y="2473.8" width="19.0" height="19.0" fill="#ff0000" stroke="#d00000" stroke-width="1"/>
<path d="M397.8 2548.0 H455.9" stroke="#d2d2d2" stroke-width="2.4"/>
<polygon points="427.2,2539.9 435.4,2556.1 418.9,2556.1" fill="#000"/>
<text x="461.9" y="2496.2" font-size="38.5" text-anchor="start" fill="#000" textLength="288.5" lengthAdjust="spacingAndGlyphs" >HNO - 1mM H2S</text>
<text x="461.9" y="2560.3" font-size="38.5" text-anchor="start" fill="#000" textLength="262.5" lengthAdjust="spacingAndGlyphs" >NO - 1mM H2S</text>
<text transform="translate(40.3 2498.6) rotate(-90)" font-size="36" textLength="480.0" lengthAdjust="spacingAndGlyphs" stroke="#fff" stroke-width="0.25"><tspan fill="#d4000c">HNO (nmol</tspan> x mg&#160;<tspan font-size="22" dy="-13">-1</tspan><tspan dy="13"> protein)</tspan></text>
<text transform="translate(1103.6 2035.0) rotate(90)" font-size="36" textLength="441.0" lengthAdjust="spacingAndGlyphs" stroke="#fff" stroke-width="0.25">NO (&#181;mol x mg<tspan font-size="22" dy="-13">-1</tspan><tspan dy="13"> protein)</tspan></text>
<text transform="translate(15.0 1885.0) scale(0.820 1)" font-size="68">c</text>
</svg></body></html>
